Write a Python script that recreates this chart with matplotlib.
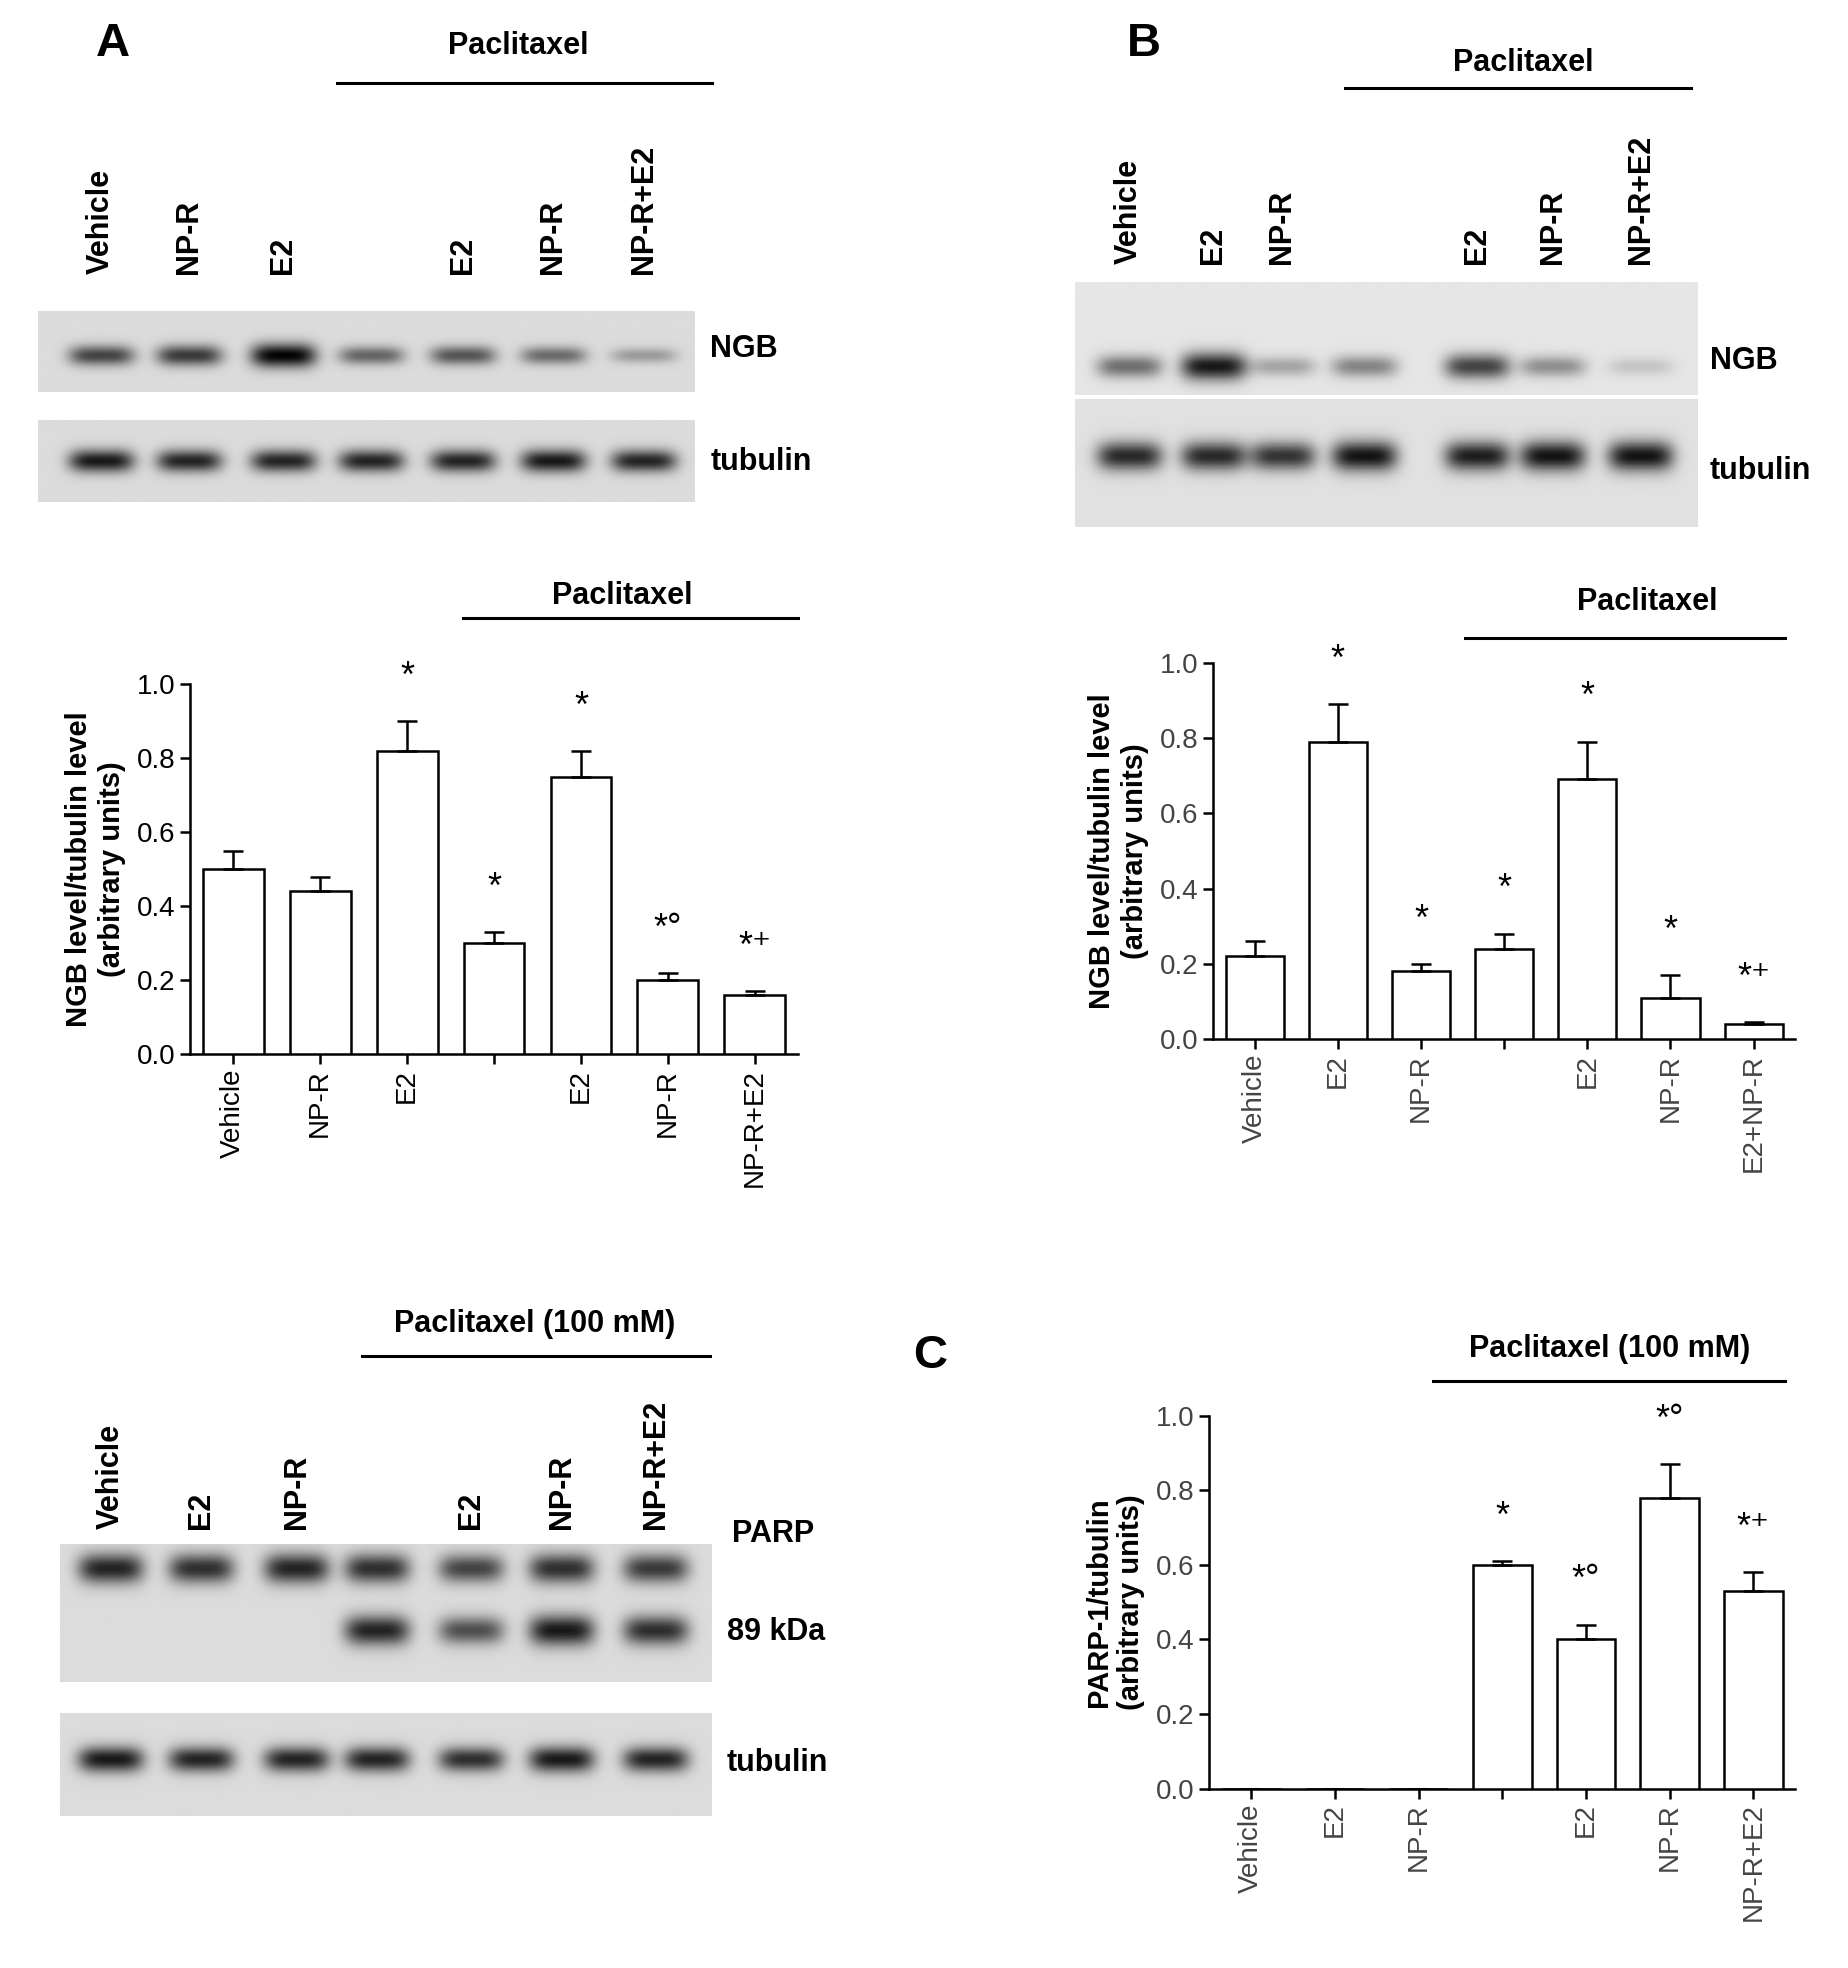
import numpy as np
import matplotlib
matplotlib.use("Agg")
import matplotlib.pyplot as plt

W, H = 1470.0, 1568.0
fig = plt.figure(figsize=(18.48, 19.68), dpi=100)
plt.rcParams['font.family'] = ['Arial', 'Liberation Sans', 'DejaVu Sans']

# ---------------- data ----------------
a_labels = ["Vehicle", "NP-R", "E2", "", "E2", "NP-R", "NP-R+E2"]
a_vals = [0.50, 0.44, 0.82, 0.30, 0.75, 0.20, 0.16]
a_err = [0.05, 0.04, 0.08, 0.03, 0.07, 0.02, 0.01]
a_marks = ["", "", "*", "*", "*", "*o", "*+"]

b_labels = ["Vehicle", "E2", "NP-R", "", "E2", "NP-R", "E2+NP-R"]
b_vals = [0.22, 0.79, 0.18, 0.24, 0.69, 0.11, 0.04]
b_err = [0.04, 0.10, 0.02, 0.04, 0.10, 0.06, 0.005]
b_marks = ["", "*", "*", "*", "*", "*", "*+"]

c_labels = ["Vehicle", "E2", "NP-R", "", "E2", "NP-R", "NP-R+E2"]
c_vals = [0.0, 0.0, 0.0, 0.60, 0.40, 0.78, 0.53]
c_err = [0.0, 0.0, 0.0, 0.01, 0.04, 0.09, 0.05]
c_marks = ["", "", "", "*", "*o", "*o", "*+"]

blotA_lanes = ["Vehicle", "NP-R", "E2", "", "E2", "NP-R", "NP-R+E2"]
blotA_ngb = [0.70, 0.75, 1.00, 0.55, 0.62, 0.52, 0.30]
blotA_tub = [0.90, 0.85, 0.85, 0.85, 0.85, 0.90, 0.85]

blotB_lanes = ["Vehicle", "E2", "NP-R", "", "E2", "NP-R", "NP-R+E2"]
blotB_ngb = [0.55, 0.95, 0.30, 0.45, 0.75, 0.40, 0.15]
blotB_tub = [0.85, 0.85, 0.80, 0.95, 0.90, 0.95, 0.95]

blotC_lanes = ["Vehicle", "E2", "NP-R", "", "E2", "NP-R", "NP-R+E2"]
blotC_parp = [0.85, 0.80, 0.85, 0.80, 0.70, 0.80, 0.75]
blotC_89 = [0.0, 0.0, 0.0, 0.85, 0.65, 0.90, 0.80]
blotC_tub = [0.90, 0.85, 0.85, 0.85, 0.80, 0.90, 0.85]


def ax_px(x, y, w, h):
    return fig.add_axes([x / W, 1 - (y + h) / H, w / W, h / H])


def ftext(x, y, s, **kw):
    fig.text(x / W, 1 - y / H, s, **kw)


def hline(x0, x1, y, lw=2.2):
    fig.add_artist(plt.Line2D([x0 / W, x1 / W], [1 - y / H, 1 - y / H], color='black', lw=lw))


def strip(x, y, w, h, lane_x, bands, bg=0.86):
    ax = ax_px(x, y, w, h)
    xs = np.linspace(x, x + w, 400)
    ys = np.linspace(0, 1, 100)
    X, Y = np.meshgrid(xs, ys)
    img = np.full(X.shape, bg)
    for inten, yc in bands:
        for lx, v in zip(lane_x, inten):
            if v <= 0:
                continue
            img -= v * 0.85 * np.exp(-((X - lx) / 26.0) ** 4 - ((Y - yc) / (0.07 + 0.05 * v * 100 / h)) ** 2)
    img = np.clip(img, 0, 1)
    ax.imshow(img, cmap='gray', vmin=0, vmax=1, aspect='auto', extent=[x, x + w, 1, 0])
    ax.axis('off')
    return ax


def lane_labels(lane_x, labels, ybot):
    for lx, l in zip(lane_x, labels):
        if l:
            ftext(lx, ybot, l, rotation=90, ha='center', va='bottom', fontsize=22, fontweight='bold')


def bars(x, y0, x1, y1, vals, errs, marks, labels, ylabel, light=False):
    ax = ax_px(x, y1, x1 - x, y0 - y1)
    n = len(vals)
    pos = np.arange(n)
    ax.bar(pos, vals, width=0.7, color='white', edgecolor='black', lw=1.8,
           yerr=[np.zeros(n), errs], error_kw=dict(lw=1.8, capsize=7, capthick=1.8), zorder=3)
    ax.set_xlim(-0.5, n - 0.5)
    ax.set_ylim(0, 1.0)
    ax.set_yticks(np.arange(0, 1.01, 0.2))
    ax.set_yticklabels([f"{v:.1f}" for v in np.arange(0, 1.01, 0.2)], fontsize=20,
                       color='#444444' if light else 'black')
    ax.set_xticks(pos)
    ax.set_xticklabels(labels, rotation=90, fontsize=20, color='#444444' if light else 'black')
    for s in ['top', 'right']:
        ax.spines[s].set_visible(False)
    for s in ['left', 'bottom']:
        ax.spines[s].set_linewidth(1.8)
    ax.tick_params(width=1.8, length=7)
    for p, v, e, m in zip(pos, vals, errs, marks):
        if m:
            txt = m.replace('o', '°').replace('+', '⁺')
            ax.text(p, v + e + 0.07, txt, ha='center', va='bottom', fontsize=26)
    ax.set_ylabel(ylabel, fontsize=21, fontweight='bold', labelpad=8)
    return ax


# ---------------- Panel A blot ----------------
ftext(90, 35, "A", fontsize=34, fontweight='bold', ha='center', va='center')
hline(268, 566, 66)
ftext(412, 37, "Paclitaxel", fontsize=22, fontweight='bold', ha='center', va='center')
laneA = [80, 150, 225, 295, 368, 440, 512]
lane_labels(laneA, blotA_lanes, 218)
strip(30, 248, 522, 64, laneA, [(blotA_ngb, 0.55)])
strip(30, 335, 522, 65, laneA, [(blotA_tub, 0.5)])
ftext(565, 278, "NGB", fontsize=22, fontweight='bold', va='center')
ftext(565, 368, "tubulin", fontsize=22, fontweight='bold', va='center')

# ---------------- Panel A chart ----------------
bars(151, 840, 635, 545, a_vals, a_err, a_marks, a_labels,
     "NGB level/tubulin level\n(arbitrary units)")
hline(368, 635, 492)
ftext(495, 475, "Paclitaxel", fontsize=22, fontweight='bold', ha='center', va='center')

# ---------------- Panel B blot ----------------
ftext(910, 35, "B", fontsize=34, fontweight='bold', ha='center', va='center')
hline(1070, 1345, 70)
ftext(1212, 50, "Paclitaxel", fontsize=22, fontweight='bold', ha='center', va='center')
laneB = [898, 965, 1020, 1085, 1175, 1235, 1305]
lane_labels(laneB, blotB_lanes, 210)
strip(855, 225, 495, 90, laneB, [(blotB_ngb, 0.75)], bg=0.9)
strip(855, 318, 495, 102, laneB, [(blotB_tub, 0.45)], bg=0.88)
ftext(1360, 288, "NGB", fontsize=22, fontweight='bold', va='center')
ftext(1360, 375, "tubulin", fontsize=22, fontweight='bold', va='center')

# ---------------- Panel B chart ----------------
bars(965, 828, 1428, 528, b_vals, b_err, b_marks, b_labels,
     "NGB level/tubulin level\n(arbitrary units)", light=True)
hline(1165, 1420, 508)
ftext(1310, 480, "Paclitaxel", fontsize=22, fontweight='bold', ha='center', va='center')

# ---------------- Panel C blot ----------------
hline(288, 565, 1080)
ftext(425, 1055, "Paclitaxel (100 mM)", fontsize=22, fontweight='bold', ha='center', va='center')
laneC = [88, 160, 236, 300, 375, 447, 522]
lane_labels(laneC, blotC_lanes, 1218)
strip(48, 1230, 518, 110, laneC, [(blotC_parp, 0.18), (blotC_89, 0.63)])
strip(48, 1365, 518, 82, laneC, [(blotC_tub, 0.45)])
ftext(582, 1222, "PARP", fontsize=22, fontweight='bold', va='center')
ftext(578, 1300, "89 kDa", fontsize=22, fontweight='bold', va='center')
ftext(578, 1405, "tubulin", fontsize=22, fontweight='bold', va='center')

# ---------------- Panel C chart ----------------
ftext(740, 1080, "C", fontsize=34, fontweight='bold', ha='center', va='center')
bars(962, 1425, 1428, 1128, c_vals, c_err, c_marks, c_labels,
     "PARP-1/tubulin\n(arbitrary units)", light=True)
hline(1140, 1420, 1100)
ftext(1280, 1075, "Paclitaxel (100 mM)", fontsize=22, fontweight='bold', ha='center', va='center')

fig.savefig("out.png", dpi=100)
